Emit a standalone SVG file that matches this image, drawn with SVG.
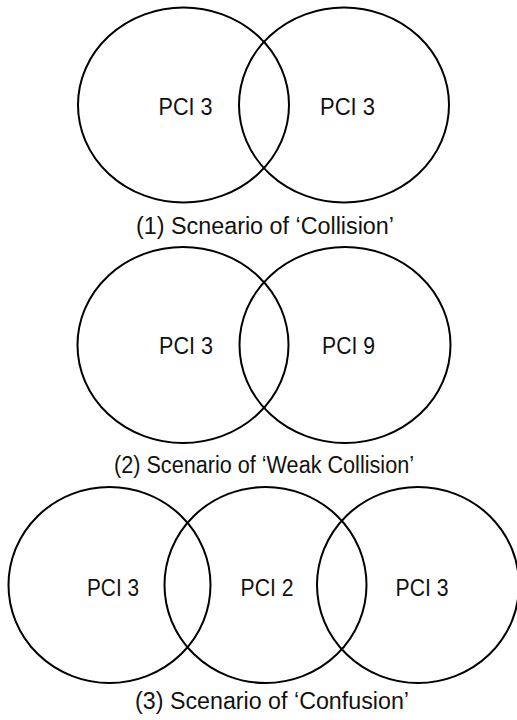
<svg xmlns="http://www.w3.org/2000/svg" width="517" height="720" viewBox="0 0 517 720">
<style>
.c{fill:none;stroke:#000;stroke-width:2}
.t{font-family:"Liberation Sans",Arial,sans-serif;font-size:23px;fill:#111;text-anchor:middle}
.cap{font-family:"Liberation Sans",Arial,sans-serif;font-size:23px;fill:#111;text-anchor:middle}
</style>
<rect width="517" height="720" fill="#fff"/>
<g id="scenario1">
<g id="s1-cell-a"><ellipse class="c" cx="183.5" cy="105" rx="105.5" ry="97.5"/><text class="t" x="185.5" y="114.5" textLength="54" lengthAdjust="spacingAndGlyphs">PCI 3</text></g>
<g id="s1-cell-b"><ellipse class="c" cx="344" cy="105" rx="105" ry="97.5"/><text class="t" x="347.5" y="114.5" textLength="55" lengthAdjust="spacingAndGlyphs">PCI  3</text></g>
<text id="caption1" class="cap" x="265" y="234" textLength="258" lengthAdjust="spacingAndGlyphs">(1)  Scneario  of  ‘Collision’</text>
</g>
<g id="scenario2">
<g id="s2-cell-a"><ellipse class="c" cx="183" cy="345" rx="105.5" ry="98"/><text class="t" x="186" y="354" textLength="54" lengthAdjust="spacingAndGlyphs">PCI 3</text></g>
<g id="s2-cell-b"><ellipse class="c" cx="345" cy="345" rx="105.5" ry="98"/><text class="t" x="348.5" y="354" textLength="53" lengthAdjust="spacingAndGlyphs">PCI 9</text></g>
<text id="caption2" class="cap" x="264" y="473" textLength="300" lengthAdjust="spacingAndGlyphs">(2)  Scenario  of  ‘Weak  Collision’</text>
</g>
<g id="scenario3">
<g id="s3-cell-a"><ellipse class="c" cx="109.5" cy="585" rx="101" ry="98"/><text class="t" x="113" y="596" textLength="52" lengthAdjust="spacingAndGlyphs">PCI 3</text></g>
<g id="s3-cell-b"><ellipse class="c" cx="265.5" cy="585" rx="101" ry="98"/><text class="t" x="267" y="596" textLength="53" lengthAdjust="spacingAndGlyphs">PCI 2</text></g>
<g id="s3-cell-c"><ellipse class="c" cx="418" cy="585" rx="101" ry="98"/><text class="t" x="422" y="596" textLength="53" lengthAdjust="spacingAndGlyphs">PCI  3</text></g>
<text id="caption3" class="cap" x="272" y="709" textLength="274" lengthAdjust="spacingAndGlyphs">(3)  Scenario  of  ‘Confusion’</text>
</g>
<g id="connectors"/>
</svg>
